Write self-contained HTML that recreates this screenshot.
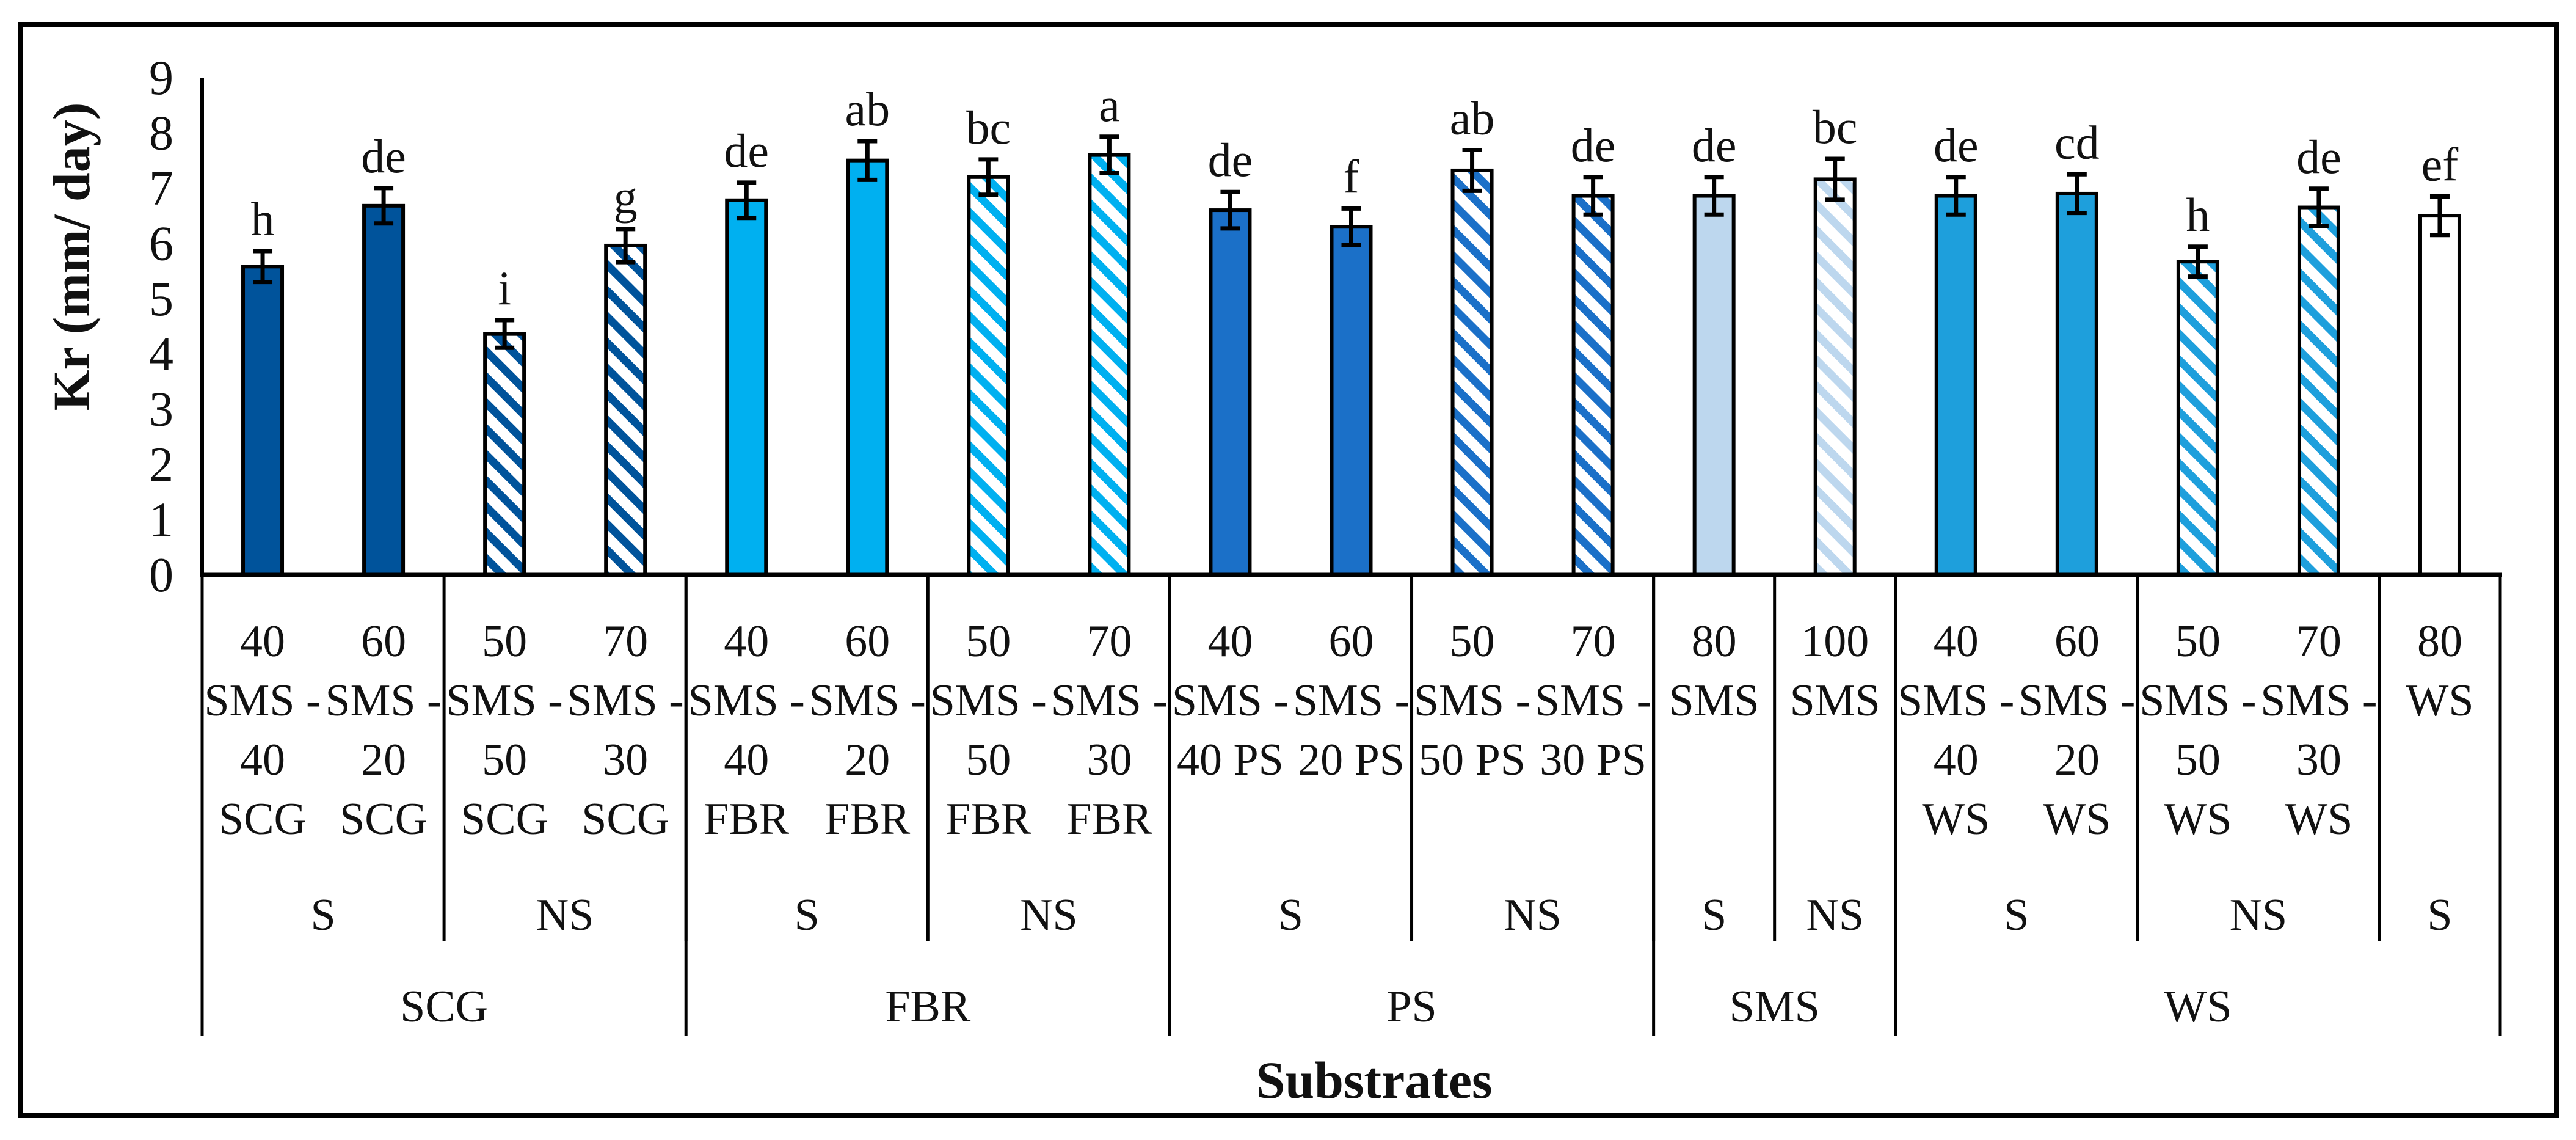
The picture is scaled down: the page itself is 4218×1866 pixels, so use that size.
<!DOCTYPE html>
<html><head><meta charset="utf-8"><style>
html,body{margin:0;padding:0;background:#fff}
svg{display:block}
text{font-family:"Liberation Serif",serif;fill:#111}
</style></head><body>
<svg id="chart" width="4218" height="1866" viewBox="0 0 4218 1866" xmlns="http://www.w3.org/2000/svg">
<defs>
<pattern id="h-scg" patternUnits="userSpaceOnUse" width="30" height="30" patternTransform="rotate(-45)"><rect width="30" height="30" fill="#fff"/><rect width="13" height="30" fill="#00539b"/></pattern>
<pattern id="h-fbr" patternUnits="userSpaceOnUse" width="30" height="30" patternTransform="rotate(-45)"><rect width="30" height="30" fill="#fff"/><rect width="13" height="30" fill="#00b0f0"/></pattern>
<pattern id="h-ps" patternUnits="userSpaceOnUse" width="30" height="30" patternTransform="rotate(-45)"><rect width="30" height="30" fill="#fff"/><rect width="13" height="30" fill="#1b70c8"/></pattern>
<pattern id="h-sms" patternUnits="userSpaceOnUse" width="30" height="30" patternTransform="rotate(-45)"><rect width="30" height="30" fill="#fff"/><rect width="13" height="30" fill="#bdd7ee"/></pattern>
<pattern id="h-ws" patternUnits="userSpaceOnUse" width="30" height="30" patternTransform="rotate(-45)"><rect width="30" height="30" fill="#fff"/><rect width="13" height="30" fill="#1e9fdc"/></pattern>
</defs>
<rect x="34" y="40" width="4152" height="1786" fill="#fff" stroke="#000" stroke-width="8"/>
<g id="g"></g>
</svg>
<script>
const values = [5.58, 6.68, 4.36, 5.96, 6.78, 7.5, 7.2, 7.6, 6.6, 6.3, 7.32, 6.86, 6.86, 7.16, 6.86, 6.9, 5.67, 6.65, 6.5];
const errors = [0.28, 0.32, 0.25, 0.3, 0.32, 0.35, 0.32, 0.33, 0.33, 0.33, 0.37, 0.34, 0.34, 0.37, 0.34, 0.35, 0.27, 0.34, 0.35];
const letters = ["h","de","i","g","de","ab","bc","a","de","f","ab","de","de","bc","de","cd","h","de","ef"];
const fills = ["#00539b","#00539b","url(#h-scg)","url(#h-scg)","#00b0f0","#00b0f0","url(#h-fbr)","url(#h-fbr)","#1b70c8","#1b70c8","url(#h-ps)","url(#h-ps)","#bdd7ee","url(#h-sms)","#1e9fdc","#1e9fdc","url(#h-ws)","url(#h-ws)","#ffffff"];
const barLabels = [
 ["40","SMS -","40","SCG"],["60","SMS -","20","SCG"],["50","SMS -","50","SCG"],["70","SMS -","30","SCG"],
 ["40","SMS -","40","FBR"],["60","SMS -","20","FBR"],["50","SMS -","50","FBR"],["70","SMS -","30","FBR"],
 ["40","SMS -","40 PS"],["60","SMS -","20 PS"],["50","SMS -","50 PS"],["70","SMS -","30 PS"],
 ["80","SMS"],["100","SMS"],
 ["40","SMS -","40","WS"],["60","SMS -","20","WS"],["50","SMS -","50","WS"],["70","SMS -","30","WS"],["80","WS"]];
const subgroups = [["S",0,2],["NS",2,4],["S",4,6],["NS",6,8],["S",8,10],["NS",10,12],["S",12,13],["NS",13,14],["S",14,16],["NS",16,18],["S",18,19]];
const groups = [["SCG",0,4],["FBR",4,8],["PS",8,12],["SMS",12,14],["WS",14,19]];
const yTicks = [0,1,2,3,4,5,6,7,8,9];

const X0=331, X1=4094, Y0=941, YT=127, N=values.length;
const cw=(X1-X0)/N;
const xC=i=>X0+cw*(i+0.5);
const xE=i=>X0+cw*i;
const y=v=>Y0-(Y0-YT)*v/9;
const g=document.getElementById('g');
const NS='http://www.w3.org/2000/svg';
function el(tag,attrs,txt){const e=document.createElementNS(NS,tag);for(const k in attrs)e.setAttribute(k,attrs[k]);if(txt!=null)e.textContent=txt;g.appendChild(e);return e;}

let ax=el('line',{x1:X0,y1:YT,x2:X0,y2:Y0,stroke:'#000','stroke-width':6});


yTicks.forEach(t=>{
 const e=el('text',{x:284,y:y(t)+27,'text-anchor':'end','font-size':80},String(t));
 
 
});
let yt=el('text',{x:0,y:0,transform:'translate(146,420) rotate(-90)','text-anchor':'middle','font-size':86,'font-weight':'bold'},'Kr (mm/ day)');



const bw=64;
values.forEach((v,i)=>{
 const b=el('rect',{x:xC(i)-bw/2,y:y(v),width:bw,height:Y0-y(v),fill:fills[i],stroke:'#000','stroke-width':6});
 
 
 const hi=y(v+errors[i]), lo=y(v-errors[i]);
 const eb=el('path',{d:`M${xC(i)} ${hi}V${lo}M${xC(i)-16} ${hi}H${xC(i)+16}M${xC(i)-16} ${lo}H${xC(i)+16}`,stroke:'#000','stroke-width':7,fill:'none'});
 
 
 const l=el('text',{x:xC(i),y:hi-26,'text-anchor':'middle','font-size':78},letters[i]);
 
 
 barLabels[i].forEach((s,k)=>{
  const t=el('text',{x:xC(i),y:1074+k*97,'text-anchor':'middle','font-size':74},s);
  
  
 });
});
let xa=el('line',{x1:X0-3,y1:Y0,x2:X1+3,y2:Y0,stroke:'#000','stroke-width':7});


subgroups.forEach(([s,a,b])=>{
 const d=el('line',{x1:xE(b),y1:Y0,x2:xE(b),y2:1541,stroke:'#000','stroke-width':5});
 
 
 const t=el('text',{x:(xE(a)+xE(b))/2,y:1522,'text-anchor':'middle','font-size':74},s);
 
 
});
let ld=el('line',{x1:X0,y1:Y0,x2:X0,y2:1695,stroke:'#000','stroke-width':5});


groups.forEach(([s,a,b])=>{
 const d=el('line',{x1:xE(b),y1:Y0,x2:xE(b),y2:1695,stroke:'#000','stroke-width':5});
 
 
 const t=el('text',{x:(xE(a)+xE(b))/2,y:1672,'text-anchor':'middle','font-size':74},s);
 
 
});
let xt=el('text',{x:2250,y:1797,'text-anchor':'middle','font-size':86,'font-weight':'bold'},'Substrates');


</script>
</body></html>
